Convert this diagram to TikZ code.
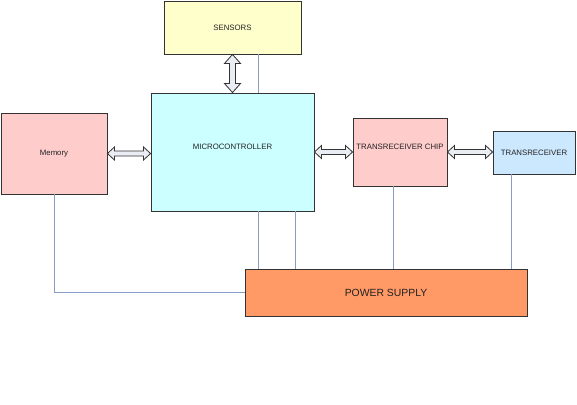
\documentclass[tikz,border=0pt]{standalone}
\usepackage{fontspec}
\setmainfont{Liberation Sans}
\usetikzlibrary{calc}
\definecolor{wirec}{HTML}{869CC6}
\definecolor{edgec}{HTML}{333333}
\definecolor{txtc}{HTML}{222222}
\definecolor{arrfill}{HTML}{EAEDF4}
\tikzset{
  blk/.style={draw=edgec, line width=0.9pt, rectangle, inner sep=0pt, text=txtc, font=\fontsize{7.8}{9}\selectfont},
  wire/.style={draw=wirec, line width=0.9pt},
  darr/.style={draw=edgec, fill=arrfill, line width=0.8pt, line join=miter},
}
\newcommand\hdarrow[5]{%
  \draw[darr] let \p1=#1, \p2=#2 in
   (\x1,\y1) -- (\x1+#3,\y1+#4) -- (\x1+#3,\y1+#5) -- (\x2-#3,\y1+#5) -- (\x2-#3,\y1+#4)
   -- (\x2,\y1) -- (\x2-#3,\y1-#4) -- (\x2-#3,\y1-#5) -- (\x1+#3,\y1-#5) -- (\x1+#3,\y1-#4) -- cycle;}
\newcommand\vdarrow[5]{%
  \draw[darr] let \p1=#1, \p2=#2 in
   (\x1,\y1) -- (\x1+#4,\y1-#3) -- (\x1+#5,\y1-#3) -- (\x1+#5,\y2+#3) -- (\x1+#4,\y2+#3)
   -- (\x1,\y2) -- (\x1-#4,\y2+#3) -- (\x1-#5,\y2+#3) -- (\x1-#5,\y1-#3) -- (\x1-#4,\y1-#3) -- cycle;}
\begin{document}
\begin{tikzpicture}[x=1pt,y=-1pt]
\useasboundingbox[fill=white] (0,0) rectangle (577,404);
\node[blk, fill={rgb,255:red,255;green,255;blue,204}, minimum width=137pt, minimum height=53pt] (sens) at (232.5,27.5) {SENSORS};
\node[blk, fill={rgb,255:red,204;green,255;blue,255}, minimum width=163pt, minimum height=118pt, text depth=10pt] (mcu) at (232.5,152) {MICROCONTROLLER};
\node[blk, fill={rgb,255:red,255;green,204;blue,204}, minimum width=106pt, minimum height=81pt] (mem) at (54,153.5) {Memory};
\node[blk, fill={rgb,255:red,255;green,204;blue,204}, minimum width=94pt, minimum height=68pt, text depth=10pt] (tc) at (400,152) {TRANSRECEIVER CHIP};
\node[blk, fill={rgb,255:red,204;green,232;blue,255}, minimum width=82pt, minimum height=43pt] (tr) at (534,152.5) {TRANSRECEIVER};
\node[blk, fill={rgb,255:red,255;green,153;blue,102}, minimum width=282pt, minimum height=47pt, font=\fontsize{10.4}{12}\selectfont] (ps) at (386,292.5) {POWER SUPPLY};
% power / signal wires
\draw[wire] (sens.south -| 258,0) -- (mcu.north -| 258,0);
\draw[wire] (mcu.south -| 258,0) -- (ps.north -| 258,0);
\draw[wire] (mcu.south -| 295,0) -- (ps.north -| 295,0);
\draw[wire] (mem.south) |- (ps.west);
\draw[wire] (tc.south -| 393,0) -- (ps.north -| 393,0);
\draw[wire] (tr.south -| 511,0) -- (ps.north -| 511,0);
% double arrows
\vdarrow{(sens.south)}{(mcu.north)}{9pt}{8pt}{3pt}
\hdarrow{(mem.east)}{(mcu.west)}{7pt}{6.5pt}{2.5pt}
\hdarrow{(mcu.east)}{(tc.west)}{7pt}{6.5pt}{2.5pt}
\hdarrow{(tc.east)}{(tr.west)}{7pt}{6.5pt}{2.5pt}
\end{tikzpicture}
\end{document}
